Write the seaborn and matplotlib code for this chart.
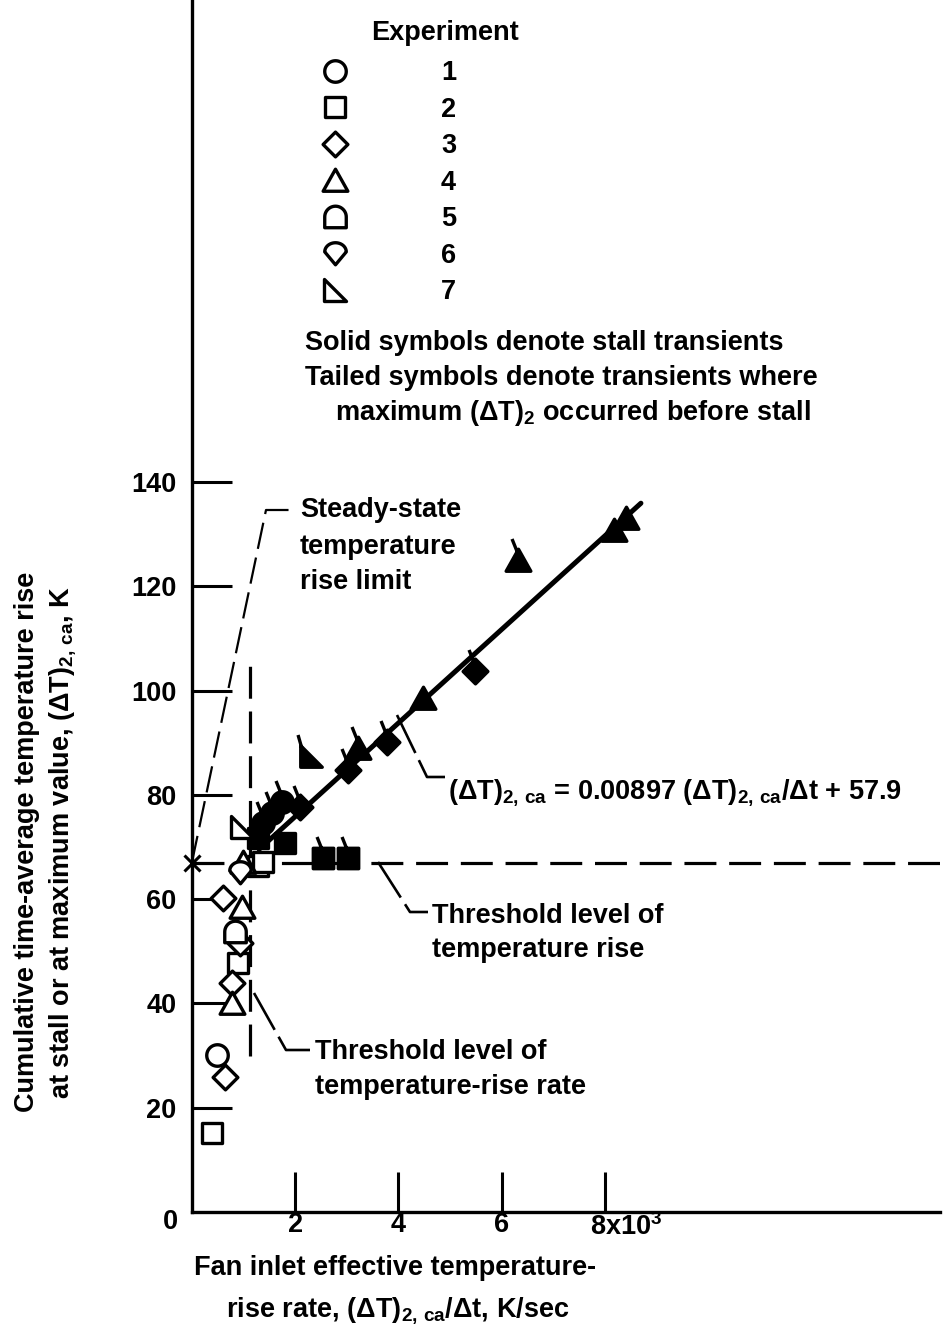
import matplotlib
matplotlib.use('Agg')
import matplotlib.pyplot as plt
import numpy as np
import pandas as pd
import seaborn as sns
from matplotlib.lines import Line2D
from matplotlib.path import Path

sns.set_theme(style='white')
plt.rcParams['font.family'] = ['Liberation Sans', 'DejaVu Sans']
plt.rcParams['font.weight'] = 'bold'
plt.rcParams['mathtext.fontset'] = 'custom'
plt.rcParams['mathtext.rm'] = 'Liberation Sans:bold'
plt.rcParams['mathtext.it'] = 'Liberation Sans:bold'
plt.rcParams['mathtext.bf'] = 'Liberation Sans:bold'
plt.rcParams['text.color'] = 'black'

# Data (rate in 10^3 K/sec, rise in K)
experiment = [1, 2, 2, 2, 2, 3, 3, 3, 3, 4, 4, 4, 5, 6, 7,
              1, 1, 1, 2, 2, 2, 2, 3, 3, 3, 3, 4, 4, 4, 4, 4, 7]
rate = [0.48, 0.39, 0.89, 1.28, 1.38, 0.64, 0.78, 0.93, 0.60, 0.78, 0.97, 0.99, 0.83, 0.93, 0.97,
        1.74, 1.55, 1.38, 1.28, 1.80, 2.54, 3.02, 2.09, 3.02, 3.78, 5.48, 3.22, 4.48, 6.32, 8.18, 8.41, 2.30]
temp_rise = [30.1, 15.2, 47.8, 66.4, 67.1, 25.9, 43.9, 51.6, 60.2, 40.1, 58.5, 67.1, 53.7, 65.2, 73.8,
             78.6, 76.5, 74.6, 71.7, 70.8, 67.9, 67.9, 77.7, 84.8, 90.1, 103.8, 89.0, 98.6, 125.0, 130.8, 133.1, 87.5]
solid = [0] * 15 + [1] * 17
tailed = [0] * 15 + [1, 1, 1, 0, 0, 1, 1, 1, 1, 1, 1, 1, 0, 1, 0, 0, 1]

fit_slope = 0.00897 * 1000   # per 10^3 K/sec
fit_icpt = 57.9
fit_range = [1.3, 8.7]
threshold_rise = 67.0
threshold_rate = 1.12
threshold_rate_span = [30, 106]

df = pd.DataFrame({'experiment': experiment, 'rate': rate, 'rise': temp_rise,
                   'solid': solid, 'tailed': tailed})


def shape(exp):
    t = np.linspace(0, np.pi, 25)
    if exp == 1:
        a = np.linspace(0, 2 * np.pi, 49)
        return list(zip(np.cos(a), np.sin(a)))
    if exp == 2:
        return [(-0.95, -0.95), (0.95, -0.95), (0.95, 0.95), (-0.95, 0.95), (-0.95, -0.95)]
    if exp == 3:
        return [(0, -1.15), (1.15, 0), (0, 1.15), (-1.15, 0), (0, -1.15)]
    if exp == 4:
        return [(-1.15, -1.0), (1.15, -1.0), (0, 1.05), (-1.15, -1.0)]
    if exp == 5:
        arc = list(zip(np.cos(t), 0.05 + np.sin(t)))
        return [(-1, -0.95), (1, -0.95)] + arc + [(-1, -0.95)]
    if exp == 6:
        arc = list(zip(np.cos(t), 0.15 + 0.85 * np.sin(t)))
        return [(0, -1.05)] + arc + [(0, -1.05)]
    return [(-1.0, 1.0), (-1.0, -1.0), (1.0, -1.0), (-1.0, 1.0)]


def make_marker(exp, tail=False):
    verts = shape(exp)
    codes = [Path.MOVETO] + [Path.LINETO] * (len(verts) - 2) + [Path.CLOSEPOLY]
    if tail:
        # tail starts inside the (filled) symbol and leans up-left
        start = (-0.85, 0.6) if exp == 7 else (0.0, 0.5)
        end = (-1.25, 2.0) if exp == 7 else (-0.6, 2.0)
        verts = verts + [start, end]
        codes = codes + [Path.MOVETO, Path.LINETO]
    # dummy point keeps the same scale for all markers
    verts = verts + [(0, -2.0)]
    codes = codes + [Path.MOVETO]
    return Path(verts, codes)


def fx(px):
    return px / 946


def fy(py):
    return 1 - py / 1331


XS, YS = 51.6, 5.214   # pixels per data unit


def dx(px):
    return (px - 192) / XS


def dy(py):
    return (1212 - py) / YS


fig = plt.figure(figsize=(9.46, 13.31), dpi=100)
ax = fig.add_axes([fx(192), fy(1212), (940 - 192) / 946, 1212 / 1331])
ax.set_xlim(0, dx(940))
ax.set_ylim(0, dy(0))
ax.set_facecolor('white')
for s in ['top', 'right']:
    ax.spines[s].set_visible(False)
for s in ['left', 'bottom']:
    ax.spines[s].set_linewidth(2.4)
    ax.spines[s].set_color('black')

# points
for (exp, sol, tl), g in df.groupby(['experiment', 'solid', 'tailed']):
    sns.scatterplot(data=g, x='rate', y='rise', marker=make_marker(exp, tl == 1), s=960,
                    facecolor='black' if sol else 'white', edgecolor='black',
                    linewidth=2.4, legend=False, ax=ax, zorder=4, clip_on=False)

# fit line
fit_x = np.array(fit_range)
sns.lineplot(x=fit_x, y=fit_slope * fit_x + fit_icpt, color='black', linewidth=3.6, ax=ax, zorder=3)

# threshold lines
ax.plot([0, ax.get_xlim()[1]], [threshold_rise, threshold_rise], color='black', lw=2.3,
        dashes=(10, 4), clip_on=False, zorder=2)
ax.plot([threshold_rate, threshold_rate], threshold_rate_span, color='black', lw=2.3,
        dashes=(10, 4), zorder=2)
ax.plot([0], [threshold_rise], marker='x', ms=11, mew=2.2, color='black', clip_on=False, zorder=5)

# leader lines (pixel positions)
leaders = [
    ([192, 266, 292], [862, 510, 510], 1.6, (12, 4)),
    ([397, 427, 445], [715, 777, 777], 1.9, (16, 3)),
    ([378, 410, 428], [862, 912, 912], 1.9, (16, 3)),
    ([254, 286, 310], [993, 1050, 1050], 1.9, (16, 3)),
]
for lx, ly, lw, ds in leaders:
    ax.plot([dx(v) for v in lx], [dy(v) for v in ly], color='black', lw=lw, dashes=ds, zorder=2)

fs = 19.5
# annotation texts: (x px, baseline y px, text)
notes = [
    (300, 517, 'Steady-state'),
    (300, 554, 'temperature'),
    (300, 589, 'rise limit'),
    (432, 923, 'Threshold level of'),
    (432, 957, 'temperature rise'),
    (315, 1059, 'Threshold level of'),
    (315, 1094, 'temperature-rise rate'),
    (448, 798, r'$(\Delta T)_{2,\,ca}$ = 0.00897 $(\Delta T)_{2,\,ca}/\Delta t$ + 57.9'),
]
for px, py, txt in notes:
    ax.text(dx(px), dy(py), txt, fontsize=fs, ha='left', va='baseline')

# ticks
ax.set_yticks([20, 40, 60, 80, 100, 120, 140])
ax.set_xticks([2, 4, 6, 8])
ax.set_xticklabels(['2', '4', '6', ''])
ax.tick_params(axis='both', direction='in', length=29, width=2.2, labelsize=fs,
               colors='black', left=True, bottom=True)
ax.tick_params(axis='y', pad=11)
ax.tick_params(axis='x', pad=0)
ax.text(dx(590), dy(1235), '8x10$^3$', fontsize=fs, ha='left', va='baseline')
ax.text(dx(170), dy(1222), '0', fontsize=fs, ha='center', va='center')
ax.set_xlabel('')
ax.set_ylabel('')

fig.text(fx(27), fy(842), 'Cumulative time-average temperature rise',
         rotation=90, ha='center', va='center', fontsize=fs)
fig.text(fx(63), fy(842), r'at stall or at maximum value, $(\Delta T)_{2,\,ca}$, K',
         rotation=90, ha='center', va='center', fontsize=fs)
fig.text(fx(395), fy(1275), 'Fan inlet effective temperature-', ha='center', va='baseline', fontsize=fs)
fig.text(fx(398), fy(1316), r'rise rate, $(\Delta T)_{2,\,ca}/\Delta t$, K/sec', ha='center',
         va='baseline', fontsize=fs)

# legend
handles = [Line2D([], [], marker=make_marker(e), linestyle='none', markersize=31,
                  markerfacecolor='white', markeredgecolor='black', markeredgewidth=2.4)
           for e in range(1, 8)]
hl = 1.0
fs_px = fs * 100 / 72
ax.legend(handles=handles, labels=[str(e) for e in range(1, 8)], loc='upper left',
          bbox_to_anchor=(fx(335 - hl * fs_px / 2), fy(60)), bbox_transform=fig.transFigure,
          frameon=False, fontsize=fs, handlelength=hl, handletextpad=(441 - 335 - hl * fs_px / 2) / fs_px,
          labelspacing=0.39, borderpad=0, borderaxespad=0)
fig.text(fx(445), fy(40), 'Experiment', ha='center', va='baseline', fontsize=fs)
fig.text(fx(305), fy(350), 'Solid symbols denote stall transients', va='baseline', fontsize=fs)
fig.text(fx(305), fy(385), 'Tailed symbols denote transients where', va='baseline', fontsize=fs)
fig.text(fx(335), fy(420), r'maximum $(\Delta T)_2$ occurred before stall', va='baseline', fontsize=fs)

fig.savefig('out.png', dpi=100)
